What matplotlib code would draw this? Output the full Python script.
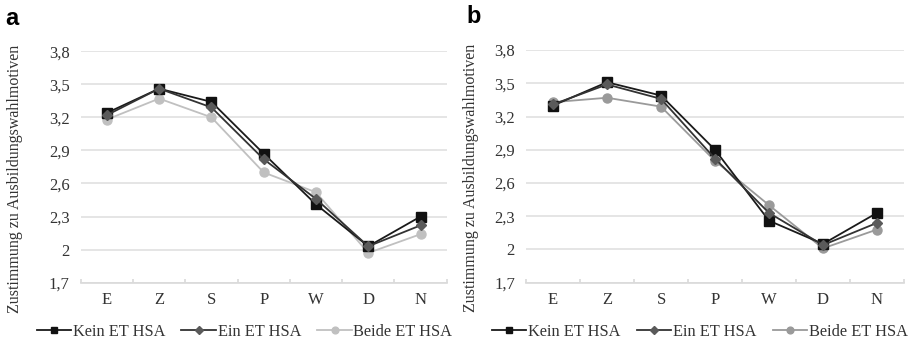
"""
two-panel line chart: agreement with training choice motives by group
"""

import matplotlib.pyplot as plt
import numpy as np

# categories on the x axis
motives = ["E", "Z", "S", "P", "W", "D", "N"]
yticks = [1.7, 2.0, 2.3, 2.6, 2.9, 3.2, 3.5, 3.8]
ytick_labels = ["1,7", "2", "2,3", "2,6", "2,9", "3,2", "3,5", "3,8"]
series_names = ["Kein ET HSA", "Ein ET HSA", "Beide ET HSA"]

# panel a values
a_kein = [3.24, 3.46, 3.34, 2.87, 2.41, 2.03, 2.30]
a_ein = [3.22, 3.46, 3.29, 2.82, 2.46, 2.03, 2.22]
a_beide = [3.18, 3.37, 3.20, 2.70, 2.52, 1.97, 2.14]

# panel b values
b_kein = [3.30, 3.51, 3.39, 2.90, 2.26, 2.05, 2.33]
b_ein = [3.31, 3.49, 3.36, 2.82, 2.33, 2.04, 2.24]
b_beide = [3.33, 3.37, 3.29, 2.80, 2.40, 2.01, 2.18]

SERIF = "Liberation Serif"


def draw_panel(ax, kein, ein, beide, beide_color, letter, letter_x, ylabel_x, legend_x):
    x = np.arange(len(motives))
    ax.plot(x, kein, color="#1a1a1a", lw=1.3, marker="s", ms=6.5,
            mfc="#111111", mec="#111111", label=series_names[0], zorder=3)
    ax.plot(x, ein, color="#333333", lw=1.3, marker="D", ms=5.5,
            mfc="#5a5a5a", mec="#5a5a5a", label=series_names[1], zorder=4)
    ax.plot(x, beide, color=beide_color, lw=1.3, marker="o", ms=6.5,
            mfc=beide_color, mec=beide_color, label=series_names[2], zorder=2)

    ax.set_xlim(-0.5, len(motives) - 0.5)
    ax.set_ylim(1.7, 3.8)
    ax.set_yticks(yticks)
    ax.set_yticklabels(ytick_labels, fontfamily=SERIF, fontsize=12)
    ax.set_xticks(x)
    ax.set_xticklabels(motives, fontfamily=SERIF, fontsize=12)
    ax.set_xticks(np.arange(len(motives) + 1) - 0.5, minor=True)

    # gridlines like the spreadsheet original
    ax.grid(axis="y", color="#e0e0e0", lw=1.2)
    ax.set_axisbelow(True)
    for side in ["top", "right", "left"]:
        ax.spines[side].set_visible(False)
    ax.spines["bottom"].set_color("#d9d9d9")
    ax.spines["bottom"].set_linewidth(1.2)
    ax.tick_params(axis="y", length=0, pad=8, colors="#333333")
    ax.tick_params(axis="x", which="major", length=0, pad=7, colors="#333333")
    ax.tick_params(axis="x", which="minor", length=3, direction="in",
                   color="#d9d9d9", width=1.2)

    ax.set_ylabel("Zustimmung zu Ausbildungswahlmotiven", fontfamily=SERIF,
                  fontsize=11.5, color="#333333")
    ax.yaxis.set_label_coords(ylabel_x, 0.45)

    leg = ax.legend(loc="center", bbox_to_anchor=(legend_x, -0.213), ncol=3,
                    frameon=False, prop={"family": SERIF, "size": 11.8},
                    handlelength=2.1, handletextpad=0.1, columnspacing=1.0,
                    markerscale=0.75, borderpad=0)
    for t in leg.get_texts():
        t.set_color("#333333")

    ax.text(letter_x, 1.143, letter, transform=ax.transAxes, fontsize=17,
            fontweight="bold", fontfamily="Liberation Sans",
            ha="center", va="center")


fig = plt.figure(figsize=(9.12, 3.42), dpi=100)
ax_a = fig.add_axes([0.0885, 0.1734, 0.4013, 0.677])
ax_b = fig.add_axes([0.5768, 0.1734, 0.4144, 0.680])

draw_panel(ax_a, a_kein, a_ein, a_beide, "#c0c0c0", "a", -0.188, -0.158, 0.4475)
draw_panel(ax_b, b_kein, b_ein, b_beide, "#9a9a9a", "b", -0.138, -0.124, 0.46)

fig.savefig("out.png", dpi=100)
